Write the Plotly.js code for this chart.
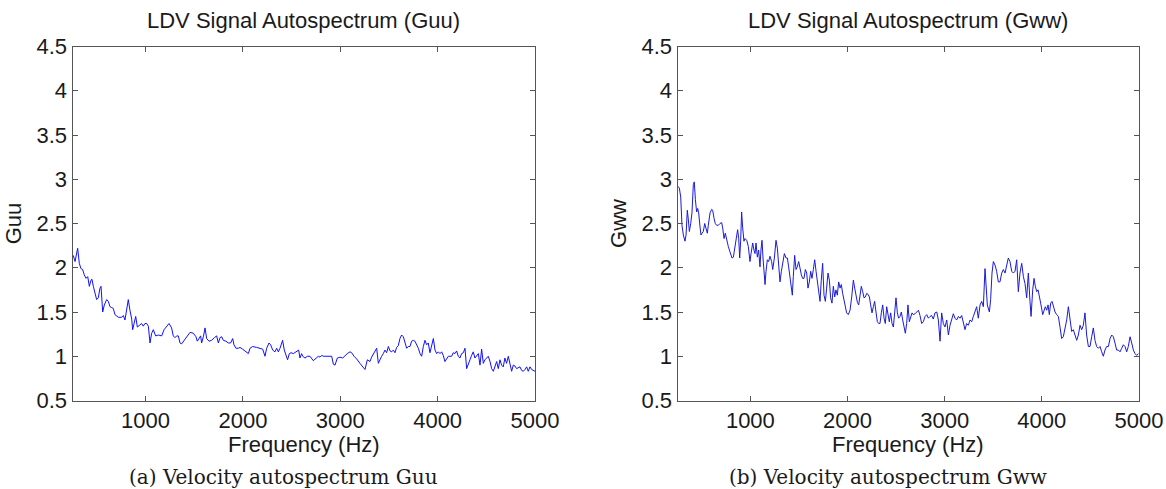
<!DOCTYPE html>
<html>
<head>
<meta charset="utf-8">
<script src="https://cdn.plot.ly/plotly-3.0.1.min.js"></script>
<style>
html,body{margin:0;padding:0;background:#fff;}
#chart{width:1166px;height:489px;}
</style>
</head>
<body>
<div id="chart"></div>
<script>
// ---- Data ----
const freqGuu = [258,276,303,320,337,354,371,389,406,423,440,450,464,481,498,515,532,543,560,577,601,618,635,652,669,686,721,755,772,789,806,823,840,858,868,882,899,916,936,960,977,994,1012,1029,1046,1063,1080,1104,1131,1166,1190,1217,1241,1268,1285,1303,1320,1337,1354,1371,1395,1422,1457,1491,1518,1532,1552,1566,1576,1594,1611,1628,1652,1679,1707,1730,1748,1765,1782,1799,1826,1850,1874,1895,1908,1929,1953,1970,1997,2021,2038,2056,2073,2100,2141,2175,2203,2227,2244,2268,2285,2306,2329,2347,2364,2381,2408,2425,2442,2459,2477,2494,2518,2535,2559,2573,2586,2603,2614,2638,2662,2689,2723,2751,2775,2792,2809,2826,2853,2877,2894,2912,2929,2946,2970,2997,3025,3048,3072,3100,3117,3141,3168,3202,3237,3254,3278,3305,3322,3340,3357,3374,3391,3408,3425,3442,3459,3476,3494,3511,3528,3545,3562,3579,3596,3613,3630,3648,3665,3682,3699,3716,3733,3750,3767,3784,3802,3819,3836,3853,3870,3887,3904,3921,3938,3956,3973,3990,4007,4024,4041,4058,4075,4093,4110,4127,4144,4161,4178,4195,4212,4229,4246,4264,4281,4298,4315,4332,4349,4366,4383,4401,4418,4435,4452,4469,4486,4503,4520,4538,4555,4572,4589,4606,4623,4640,4657,4674,4691,4708,4726,4743,4760,4777,4794,4811,4845,4863,4880,4897,4914,4931,4948,4966,5000];
const guu = [2.14,2.07,2.22,2.05,1.99,1.98,1.92,1.88,1.90,1.79,1.86,1.87,1.79,1.71,1.64,1.66,1.77,1.79,1.50,1.58,1.64,1.62,1.56,1.55,1.54,1.47,1.44,1.44,1.46,1.41,1.54,1.64,1.52,1.42,1.30,1.39,1.45,1.33,1.35,1.37,1.34,1.37,1.37,1.34,1.15,1.26,1.30,1.23,1.24,1.23,1.30,1.34,1.37,1.32,1.23,1.21,1.23,1.23,1.15,1.14,1.18,1.22,1.27,1.26,1.22,1.17,1.20,1.23,1.15,1.22,1.32,1.20,1.17,1.18,1.21,1.23,1.15,1.21,1.22,1.18,1.17,1.15,1.15,1.20,1.13,1.09,1.09,1.10,1.08,1.06,1.05,1.03,1.09,1.11,1.10,1.09,1.08,1.00,1.09,1.15,1.13,1.07,1.05,1.09,1.05,1.09,1.18,1.07,1.00,0.96,1.03,1.04,1.03,1.04,1.06,1.07,0.98,1.03,1.00,0.98,1.00,1.00,0.95,0.98,1.00,0.99,1.01,1.00,1.00,1.00,1.00,1.00,0.91,0.90,0.98,0.99,0.98,1.01,1.03,1.05,1.04,1.00,0.97,0.92,0.88,0.85,0.96,0.94,0.99,1.03,1.05,1.09,0.92,0.97,1.00,1.03,1.07,1.04,1.11,1.06,1.05,1.07,1.04,1.10,1.12,1.20,1.24,1.22,1.15,1.09,1.11,1.11,1.17,1.18,1.17,1.13,1.09,1.03,1.00,1.11,1.18,1.13,1.15,1.04,1.11,1.20,1.07,1.03,1.05,1.03,1.05,1.01,0.94,0.98,1.00,1.00,1.00,1.04,1.03,1.06,1.00,0.98,1.03,1.04,1.09,0.86,0.90,0.96,1.01,1.05,0.98,1.00,1.03,0.90,1.08,0.92,0.96,0.98,1.00,0.94,0.86,0.83,0.88,0.94,0.86,0.96,0.90,0.88,0.98,0.92,1.00,0.92,0.83,0.90,0.89,0.86,0.88,0.84,0.83,0.85,0.88,0.83,0.88,0.85,0.83];

const freqGww = [255,269,283,296,310,327,338,351,362,372,386,399,413,423,434,447,458,468,482,492,502,516,530,543,557,567,585,602,612,626,639,653,670,687,705,715,729,742,756,773,790,811,825,842,859,869,880,890,900,910,921,934,945,962,979,996,1007,1024,1037,1048,1058,1072,1085,1099,1109,1120,1130,1140,1151,1161,1175,1188,1202,1219,1230,1247,1264,1278,1291,1305,1319,1332,1350,1367,1381,1394,1408,1422,1432,1442,1456,1470,1483,1497,1511,1525,1538,1552,1566,1580,1593,1607,1621,1634,1648,1662,1676,1689,1703,1717,1730,1744,1758,1772,1785,1799,1813,1826,1840,1854,1868,1881,1895,1909,1923,1936,1950,1964,1977,1991,2008,2026,2043,2060,2074,2087,2101,2115,2128,2142,2156,2170,2183,2197,2211,2225,2238,2252,2266,2279,2293,2307,2321,2334,2348,2362,2376,2389,2403,2417,2430,2444,2458,2472,2485,2499,2513,2526,2540,2554,2568,2581,2595,2609,2622,2636,2650,2664,2677,2695,2712,2730,2746,2763,2780,2798,2815,2832,2849,2866,2883,2900,2918,2935,2952,2969,2986,3003,3021,3038,3055,3072,3089,3106,3123,3141,3158,3175,3192,3209,3226,3244,3261,3278,3295,3312,3329,3346,3364,3381,3398,3415,3425,3439,3460,3473,3487,3501,3518,3535,3552,3569,3587,3604,3621,3638,3655,3672,3690,3707,3724,3741,3758,3775,3793,3810,3827,3844,3861,3878,3889,3906,3920,3933,3947,3961,3974,3988,4009,4022,4036,4050,4064,4077,4091,4105,4119,4136,4153,4170,4187,4204,4221,4239,4256,4273,4290,4307,4324,4341,4359,4376,4393,4410,4427,4444,4461,4479,4496,4513,4530,4547,4564,4582,4599,4616,4633,4650,4667,4685,4702,4719,4736,4753,4770,4788,4805,4822,4839,4856,4873,4890,4908,4925,4942,4959,4976,4993];
const gww = [2.92,2.90,2.80,2.48,2.37,2.30,2.37,2.65,2.54,2.41,2.50,2.62,2.94,2.97,2.77,2.63,2.67,2.62,2.46,2.37,2.39,2.41,2.50,2.43,2.39,2.48,2.62,2.66,2.65,2.56,2.50,2.48,2.48,2.50,2.51,2.45,2.33,2.39,2.31,2.24,2.18,2.11,2.12,2.24,2.37,2.43,2.33,2.11,2.30,2.63,2.45,2.30,2.33,2.31,2.24,2.07,2.16,2.28,2.20,2.16,2.28,2.12,2.20,2.01,2.20,2.31,2.11,1.98,1.81,1.96,2.09,2.07,2.13,2.07,1.98,2.11,2.31,2.22,2.05,1.84,1.96,2.07,2.16,2.11,2.11,2.01,1.90,1.79,1.69,1.90,2.14,1.98,2.01,2.07,1.98,1.92,1.88,1.88,1.98,1.94,1.77,1.84,1.96,1.88,1.98,2.09,1.96,1.84,1.69,1.62,1.86,2.05,1.69,1.62,1.77,1.94,1.86,1.66,1.60,1.79,1.67,1.75,1.69,1.84,1.77,1.81,1.71,1.62,1.54,1.49,1.47,1.52,1.67,1.86,1.77,1.69,1.61,1.58,1.67,1.79,1.73,1.66,1.67,1.71,1.70,1.67,1.58,1.49,1.56,1.62,1.50,1.39,1.37,1.37,1.49,1.58,1.43,1.37,1.56,1.45,1.39,1.49,1.37,1.33,1.52,1.66,1.49,1.43,1.45,1.50,1.41,1.35,1.26,1.37,1.58,1.39,1.45,1.49,1.47,1.48,1.50,1.52,1.46,1.37,1.39,1.45,1.47,1.43,1.45,1.46,1.42,1.49,1.50,1.41,1.17,1.49,1.37,1.33,1.41,1.24,1.35,1.41,1.48,1.43,1.41,1.45,1.43,1.46,1.39,1.30,1.37,1.35,1.41,1.39,1.45,1.50,1.56,1.43,1.58,1.62,1.56,1.99,1.82,1.58,1.50,1.64,1.94,2.07,2.03,1.96,1.84,1.84,1.94,1.98,1.94,2.03,2.11,2.07,1.96,1.94,1.96,2.09,1.73,1.94,2.05,1.90,1.82,1.66,1.94,1.62,1.45,1.75,1.88,1.79,1.73,1.75,1.69,1.60,1.47,1.52,1.56,1.52,1.58,1.47,1.60,1.62,1.56,1.50,1.47,1.45,1.33,1.20,1.22,1.32,1.41,1.56,1.41,1.28,1.30,1.24,1.18,1.24,1.35,1.30,1.35,1.49,1.24,1.11,1.11,1.22,1.32,1.18,1.11,1.09,1.11,1.05,1.00,1.07,1.11,1.11,1.20,1.24,1.22,1.15,1.07,1.07,1.05,1.09,1.13,1.11,1.05,1.11,1.22,1.15,1.07,1.03,1.01,1.03];

const xTicks = [1000,2000,3000,4000,5000];
const yTicks = [0.5,1,1.5,2,2.5,3,3.5,4,4.5];
const titles = ['LDV Signal Autospectrum (Guu)','LDV Signal Autospectrum (Gww)'];
const yTitles = ['Guu','Gww'];
const xTitle = 'Frequency (Hz)';
const captions = ['(a) Velocity autospectrum Guu','(b) Velocity autospectrum Gww'];

// ---- Plot ----
const W = 1166, H = 489;
const sans = 'Liberation Sans, Arial, Helvetica, sans-serif';
const txt = '#1a1a1a';
const axColor = '#555';
const fs = 22;

const traces = [
  {x: freqGuu, y: guu, type: 'scatter', mode: 'lines', xaxis: 'x', yaxis: 'y',
   line: {color: '#1010ff', width: 1}, hoverinfo: 'x+y'},
  {x: freqGww, y: gww, type: 'scatter', mode: 'lines', xaxis: 'x2', yaxis: 'y2',
   line: {color: '#1a1ad8', width: 1}, hoverinfo: 'x+y'}
];

function xa(domain, anchor) {
  return {domain: domain, anchor: anchor, range: [250, 5000], tickvals: xTicks,
    ticks: 'inside', ticklen: 5, tickcolor: axColor, showline: true, linecolor: axColor,
    linewidth: 1, mirror: 'ticks', showgrid: false, zeroline: false,
    tickfont: {family: sans, size: fs, color: txt}};
}
function ya(domain, anchor, t) {
  return {domain: domain, anchor: anchor, range: [0.5, 4.5], tickvals: yTicks,
    ticks: 'inside', ticklen: 5, tickcolor: axColor, showline: true, linecolor: axColor,
    linewidth: 1, mirror: 'ticks', showgrid: false, zeroline: false,
    tickfont: {family: sans, size: fs, color: txt},
    title: {text: t, font: {family: sans, size: fs, color: txt}, standoff: 8}};
}

const yDom = [(H - 400.5) / H, (H - 46.5) / H];
const x1Dom = [72.5 / W, 535 / W];
const x2Dom = [677.5 / W, 1139 / W];
const capCenters = [283 / W, 888 / W];

const annotations = [];
[x1Dom, x2Dom].forEach((d, i) => {
  const cx = (d[0] + d[1]) / 2;
  annotations.push({text: titles[i], x: cx, y: 1 - 20 / H, xref: 'paper', yref: 'paper',
    showarrow: false, xanchor: 'center', yanchor: 'middle',
    font: {family: sans, size: fs, color: txt}});
  annotations.push({text: xTitle, x: cx, y: 1 - 444 / H, xref: 'paper', yref: 'paper',
    showarrow: false, xanchor: 'center', yanchor: 'middle', borderpad: 0,
    font: {family: sans, size: fs, color: txt}});
  annotations.push({text: captions[i], x: capCenters[i], y: 1 - 477 / H, xref: 'paper', yref: 'paper',
    showarrow: false, xanchor: 'center', yanchor: 'middle',
    font: {family: 'DejaVu Serif, serif', size: 20, color: txt}});
});

const layout = {
  width: W, height: H,
  margin: {l: 0, r: 0, t: 0, b: 0},
  paper_bgcolor: '#fff', plot_bgcolor: '#fff',
  showlegend: false,
  xaxis: xa(x1Dom, 'y'),
  yaxis: ya(yDom, 'x', yTitles[0]),
  xaxis2: xa(x2Dom, 'y2'),
  yaxis2: ya(yDom, 'x2', yTitles[1]),
  annotations: annotations
};

Plotly.newPlot('chart', traces, layout, {displayModeBar: false, staticPlot: true});
</script>
</body>
</html>
